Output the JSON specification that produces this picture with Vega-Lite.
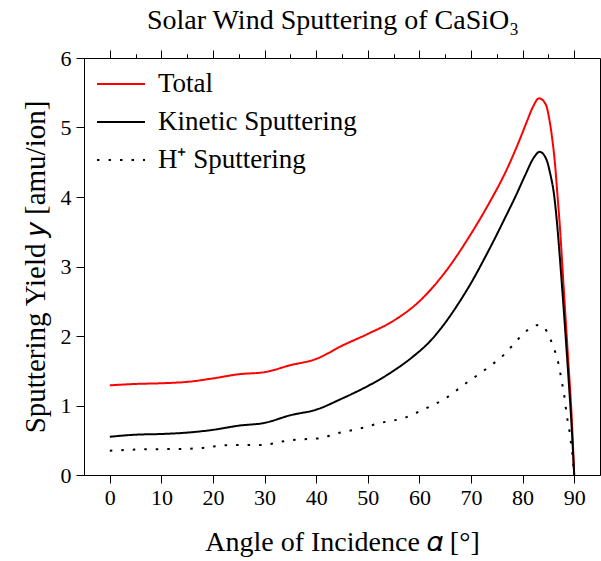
{
  "$schema": "https://vega.github.io/schema/vega-lite/v6.json",
  "autosize": "none",
  "width": 516,
  "height": 417,
  "padding": {"left": 84, "top": 58, "right": 1, "bottom": 86},
  "background": "white",
  "config": {
    "view": {"stroke": "black", "strokeWidth": 1},
    "font": "Liberation Serif",
    "axis": {
      "domainColor": "black", "tickColor": "black", "labelColor": "black", "titleColor": "black",
      "labelFont": "Liberation Serif", "titleFont": "Liberation Serif",
      "labelFontSize": 22, "titleFontSize": 28, "titleFontWeight": "normal",
      "grid": false, "tickWidth": 1, "domainWidth": 1
    },
    "legend": {
      "labelFont": "Liberation Serif", "labelFontSize": 27, "labelColor": "black"
    }
  },
  "title": {
    "text": "Solar Wind Sputtering of CaSiO₃",
    "font": "Liberation Serif", "fontSize": 28, "fontWeight": "normal", "color": "black",
    "anchor": "middle", "frame": "group", "dx": -9, "offset": 12
  },
  "data": {"values": [
    {"angle": 0, "yield": 1.29, "series": "Total"},
    {"angle": 5, "yield": 1.31, "series": "Total"},
    {"angle": 10, "yield": 1.32, "series": "Total"},
    {"angle": 15, "yield": 1.34, "series": "Total"},
    {"angle": 20, "yield": 1.39, "series": "Total"},
    {"angle": 25, "yield": 1.45, "series": "Total"},
    {"angle": 30, "yield": 1.48, "series": "Total"},
    {"angle": 35, "yield": 1.58, "series": "Total"},
    {"angle": 40, "yield": 1.67, "series": "Total"},
    {"angle": 45, "yield": 1.86, "series": "Total"},
    {"angle": 50, "yield": 2.03, "series": "Total"},
    {"angle": 55, "yield": 2.22, "series": "Total"},
    {"angle": 60, "yield": 2.5, "series": "Total"},
    {"angle": 65, "yield": 2.92, "series": "Total"},
    {"angle": 70, "yield": 3.47, "series": "Total"},
    {"angle": 73.5, "yield": 3.91, "series": "Total"},
    {"angle": 76.7, "yield": 4.36, "series": "Total"},
    {"angle": 79.3, "yield": 4.8, "series": "Total"},
    {"angle": 80.9, "yield": 5.1, "series": "Total"},
    {"angle": 81.9, "yield": 5.28, "series": "Total"},
    {"angle": 83.2, "yield": 5.42, "series": "Total"},
    {"angle": 84.5, "yield": 5.33, "series": "Total"},
    {"angle": 85.1, "yield": 5.15, "series": "Total"},
    {"angle": 85.7, "yield": 4.86, "series": "Total"},
    {"angle": 86.3, "yield": 4.46, "series": "Total"},
    {"angle": 86.7, "yield": 4.08, "series": "Total"},
    {"angle": 87.2, "yield": 3.6, "series": "Total"},
    {"angle": 88, "yield": 2.65, "series": "Total"},
    {"angle": 88.8, "yield": 1.7, "series": "Total"},
    {"angle": 89.5, "yield": 0.85, "series": "Total"},
    {"angle": 90, "yield": 0, "series": "Total"},
    {"angle": 0, "yield": 0.55, "series": "Kinetic Sputtering"},
    {"angle": 5, "yield": 0.58, "series": "Kinetic Sputtering"},
    {"angle": 10, "yield": 0.59, "series": "Kinetic Sputtering"},
    {"angle": 15, "yield": 0.61, "series": "Kinetic Sputtering"},
    {"angle": 20, "yield": 0.65, "series": "Kinetic Sputtering"},
    {"angle": 25, "yield": 0.71, "series": "Kinetic Sputtering"},
    {"angle": 30, "yield": 0.75, "series": "Kinetic Sputtering"},
    {"angle": 35, "yield": 0.86, "series": "Kinetic Sputtering"},
    {"angle": 40, "yield": 0.94, "series": "Kinetic Sputtering"},
    {"angle": 45, "yield": 1.1, "series": "Kinetic Sputtering"},
    {"angle": 50, "yield": 1.28, "series": "Kinetic Sputtering"},
    {"angle": 52.2, "yield": 1.37, "series": "Kinetic Sputtering"},
    {"angle": 55, "yield": 1.5, "series": "Kinetic Sputtering"},
    {"angle": 58.7, "yield": 1.7, "series": "Kinetic Sputtering"},
    {"angle": 62, "yield": 1.92, "series": "Kinetic Sputtering"},
    {"angle": 65.1, "yield": 2.2, "series": "Kinetic Sputtering"},
    {"angle": 67.5, "yield": 2.46, "series": "Kinetic Sputtering"},
    {"angle": 70.3, "yield": 2.8, "series": "Kinetic Sputtering"},
    {"angle": 72.5, "yield": 3.1, "series": "Kinetic Sputtering"},
    {"angle": 74.8, "yield": 3.43, "series": "Kinetic Sputtering"},
    {"angle": 76.4, "yield": 3.67, "series": "Kinetic Sputtering"},
    {"angle": 78.7, "yield": 4.02, "series": "Kinetic Sputtering"},
    {"angle": 80.6, "yield": 4.33, "series": "Kinetic Sputtering"},
    {"angle": 82.2, "yield": 4.57, "series": "Kinetic Sputtering"},
    {"angle": 83.3, "yield": 4.65, "series": "Kinetic Sputtering"},
    {"angle": 84.5, "yield": 4.56, "series": "Kinetic Sputtering"},
    {"angle": 85.4, "yield": 4.32, "series": "Kinetic Sputtering"},
    {"angle": 86.1, "yield": 4.03, "series": "Kinetic Sputtering"},
    {"angle": 86.7, "yield": 3.6, "series": "Kinetic Sputtering"},
    {"angle": 87.3, "yield": 3.05, "series": "Kinetic Sputtering"},
    {"angle": 88, "yield": 2.35, "series": "Kinetic Sputtering"},
    {"angle": 88.8, "yield": 1.5, "series": "Kinetic Sputtering"},
    {"angle": 89.5, "yield": 0.7, "series": "Kinetic Sputtering"},
    {"angle": 90, "yield": 0, "series": "Kinetic Sputtering"},
    {"angle": 0, "yield": 0.35, "series": "H⁺ Sputtering"},
    {"angle": 7, "yield": 0.37, "series": "H⁺ Sputtering"},
    {"angle": 14, "yield": 0.375, "series": "H⁺ Sputtering"},
    {"angle": 18, "yield": 0.39, "series": "H⁺ Sputtering"},
    {"angle": 23, "yield": 0.43, "series": "H⁺ Sputtering"},
    {"angle": 30, "yield": 0.43, "series": "H⁺ Sputtering"},
    {"angle": 32.5, "yield": 0.47, "series": "H⁺ Sputtering"},
    {"angle": 35, "yield": 0.5, "series": "H⁺ Sputtering"},
    {"angle": 39, "yield": 0.52, "series": "H⁺ Sputtering"},
    {"angle": 41, "yield": 0.53, "series": "H⁺ Sputtering"},
    {"angle": 43.5, "yield": 0.59, "series": "H⁺ Sputtering"},
    {"angle": 48, "yield": 0.66, "series": "H⁺ Sputtering"},
    {"angle": 52.5, "yield": 0.75, "series": "H⁺ Sputtering"},
    {"angle": 57, "yield": 0.82, "series": "H⁺ Sputtering"},
    {"angle": 61, "yield": 0.95, "series": "H⁺ Sputtering"},
    {"angle": 65, "yield": 1.1, "series": "H⁺ Sputtering"},
    {"angle": 69, "yield": 1.32, "series": "H⁺ Sputtering"},
    {"angle": 73, "yield": 1.53, "series": "H⁺ Sputtering"},
    {"angle": 76.5, "yield": 1.74, "series": "H⁺ Sputtering"},
    {"angle": 78, "yield": 1.86, "series": "H⁺ Sputtering"},
    {"angle": 79.6, "yield": 1.99, "series": "H⁺ Sputtering"},
    {"angle": 81.4, "yield": 2.11, "series": "H⁺ Sputtering"},
    {"angle": 83.2, "yield": 2.16, "series": "H⁺ Sputtering"},
    {"angle": 85.1, "yield": 2.01, "series": "H⁺ Sputtering"},
    {"angle": 85.9, "yield": 1.85, "series": "H⁺ Sputtering"},
    {"angle": 86.7, "yield": 1.68, "series": "H⁺ Sputtering"},
    {"angle": 87.2, "yield": 1.51, "series": "H⁺ Sputtering"},
    {"angle": 87.6, "yield": 1.34, "series": "H⁺ Sputtering"},
    {"angle": 88, "yield": 1.18, "series": "H⁺ Sputtering"},
    {"angle": 88.3, "yield": 1.01, "series": "H⁺ Sputtering"},
    {"angle": 88.6, "yield": 0.84, "series": "H⁺ Sputtering"},
    {"angle": 89, "yield": 0.68, "series": "H⁺ Sputtering"},
    {"angle": 89.3, "yield": 0.5, "series": "H⁺ Sputtering"},
    {"angle": 89.6, "yield": 0.34, "series": "H⁺ Sputtering"},
    {"angle": 89.8, "yield": 0.17, "series": "H⁺ Sputtering"},
    {"angle": 90, "yield": 0, "series": "H⁺ Sputtering"}
  ]},
  "resolve": {"axis": {"x": "independent", "y": "independent"}},
  "layer": [
    {
      "mark": {"type": "line", "strokeWidth": 2, "interpolate": "monotone"},
      "encoding": {
        "x": {"field": "angle", "type": "quantitative",
              "scale": {"domain": [-5, 95], "nice": false, "zero": false},
              "axis": {"values": [0, 10, 20, 30, 40, 50, 60, 70, 80, 90], "tickSize": 8, "labelPadding": 4,
                       "title": "Angle of Incidence 𝛼 [°]", "titlePadding": 20}},
        "y": {"field": "yield", "type": "quantitative",
              "scale": {"domain": [0, 6], "nice": false},
              "axis": {"values": [0, 1, 2, 3, 4, 5, 6], "tickSize": 8, "labelPadding": 5,
                       "title": "Sputtering Yield 𝑦 [amu/ion]", "titleFontSize": 29, "titlePadding": 10}},
        "color": {"field": "series", "type": "nominal",
                  "scale": {"domain": ["Total", "Kinetic Sputtering", "H⁺ Sputtering"], "range": ["#ff0000", "#000000", "#000000"]},
                  "legend": {"title": null, "orient": "none", "legendX": 12, "legendY": 1,
                             "symbolType": "stroke", "symbolSize": 2304, "symbolStrokeWidth": 2,
                             "labelOffset": 12, "rowPadding": 0, "labelFontSize": 27, "labelLimit": 0}},
        "strokeDash": {"field": "series", "type": "nominal",
                  "scale": {"domain": ["Total", "Kinetic Sputtering", "H⁺ Sputtering"], "range": [[1, 0], [1, 0], [2.5, 9]]},
                  "legend": {"title": null, "orient": "none", "legendX": 12, "legendY": 1,
                             "symbolType": "stroke", "symbolSize": 2304, "symbolStrokeWidth": 2,
                             "labelOffset": 12, "rowPadding": 0, "labelFontSize": 27, "labelLimit": 0}}
      }
    },
    {
      "mark": {"type": "point", "opacity": 0},
      "encoding": {
        "x": {"field": "angle", "type": "quantitative",
              "axis": {"values": [5, 15, 25, 35, 45, 55, 65, 75, 85], "tickSize": 4, "labels": false, "domain": false, "title": null}},
        "y": {"field": "yield", "type": "quantitative",
              "axis": {"values": [0.5, 1.5, 2.5, 3.5, 4.5, 5.5], "tickSize": 4, "labels": false, "domain": false, "title": null}}
      }
    },
    {
      "mark": {"type": "point", "opacity": 0},
      "encoding": {
        "x": {"field": "angle", "type": "quantitative",
              "axis": {"orient": "top", "values": [0, 10, 20, 30, 40, 50, 60, 70, 80, 90], "tickSize": 8, "labels": false, "domain": false, "title": null}},
        "y": {"field": "yield", "type": "quantitative", "axis": null}
      }
    },
    {
      "mark": {"type": "point", "opacity": 0},
      "encoding": {
        "x": {"field": "angle", "type": "quantitative",
              "axis": {"orient": "top", "values": [5, 15, 25, 35, 45, 55, 65, 75, 85], "tickSize": 4, "labels": false, "domain": false, "title": null}},
        "y": {"field": "yield", "type": "quantitative", "axis": null}
      }
    }
  ]
}
